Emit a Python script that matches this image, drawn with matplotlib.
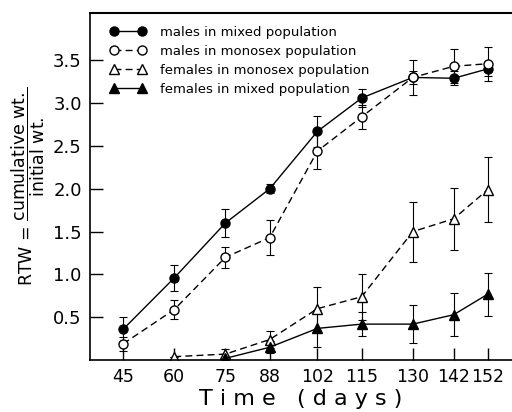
import matplotlib.pyplot as plt
from matplotlib.lines import Line2D

plt.rcParams['font.family'] = ['DejaVu Sans']
plt.rcParams['mathtext.fontset'] = 'dejavusans'

days = [45, 60, 75, 88, 102, 115, 130, 142, 152]

# males in mixed population
mm_y = [0.36, 0.96, 1.60, 2.00, 2.67, 3.06, 3.30, 3.29, 3.40]
mm_e = [0.14, 0.15, 0.16, 0.05, 0.18, 0.10, 0.08, 0.08, 0.08]

# males in monosex population
ms_y = [0.19, 0.59, 1.20, 1.43, 2.44, 2.84, 3.30, 3.43, 3.46]
ms_e = [0.08, 0.11, 0.12, 0.20, 0.21, 0.14, 0.20, 0.20, 0.20]

# females in monosex population
fs_d = [60, 75, 88, 102, 115, 130, 142, 152]
fs_y = [0.04, 0.07, 0.24, 0.60, 0.74, 1.50, 1.65, 1.99]
fs_e = [0.00, 0.06, 0.10, 0.25, 0.27, 0.35, 0.36, 0.38]

# females in mixed population
fm_d = [75, 88, 102, 115, 130, 142, 152]
fm_y = [0.02, 0.15, 0.37, 0.42, 0.42, 0.53, 0.77]
fm_e = [0.00, 0.07, 0.22, 0.14, 0.22, 0.25, 0.25]

labels = ['males in mixed population', 'males in monosex population',
          'females in monosex population', 'females in mixed population']

fig = plt.figure(figsize=(5.12, 4.12), dpi=100)
ax = fig.add_axes([0.176, 0.126, 0.824, 0.842])

dash = (0, (5, 3))
kw = dict(color='black', ecolor='black', elinewidth=0.8, capsize=3,
          capthick=0.8, markersize=6.5, linewidth=1.0)

ax.errorbar(days, mm_y, yerr=mm_e, fmt='o', ls='-', mfc='black', **kw)
ax.errorbar(days, ms_y, yerr=ms_e, fmt='o', ls=dash, mfc='white', **kw)
ax.errorbar(fs_d, fs_y, yerr=fs_e, fmt='^', ls=dash, mfc='white', **kw)
ax.errorbar(fm_d, fm_y, yerr=fm_e, fmt='^', ls='-', mfc='black', **kw)

handles = [
    Line2D([], [], color='black', lw=1.0, ls='-', marker='o', mfc='black', ms=6.5),
    Line2D([], [], color='black', lw=1.0, ls=dash, marker='o', mfc='white', ms=6.5),
    Line2D([], [], color='black', lw=1.0, ls=dash, marker='^', mfc='white', ms=6.5),
    Line2D([], [], color='black', lw=1.0, ls='-', marker='^', mfc='black', ms=6.5),
]

ax.set_xlim(35.3, 159.1)
ax.set_ylim(0, 4.05)
ax.set_xticks(days)
ax.set_xticklabels([str(d) for d in days], fontsize=12.5)
ax.set_yticks([0.5, 1.0, 1.5, 2.0, 2.5, 3.0, 3.5])
ax.set_yticklabels(['0.5', '1.0', '1.5', '2.0', '2.5', '3.0', '3.5'], fontsize=13)
ax.tick_params(direction='in', length=9, width=1.0, pad=6)

ax.spines['right'].set_visible(False)
ax.spines['top'].set_linewidth(1.5)
ax.spines['left'].set_linewidth(1.2)
ax.spines['bottom'].set_linewidth(1.2)

ax.set_xlabel('T i m e   ( d a y s )', fontsize=16, labelpad=2)
ax.set_ylabel(r'RTW = $\dfrac{\mathrm{cumulative\ wt.}}{\mathrm{initial\ wt.}}$',
              fontsize=12.5, labelpad=4)

ax.legend(handles, labels, loc='upper left', bbox_to_anchor=(0.025, 0.99),
          numpoints=2, frameon=False, fontsize=9.5, handlelength=2.7,
          handletextpad=1.1, labelspacing=0.45, borderaxespad=0.3)

plt.savefig('out.png', dpi=100)
